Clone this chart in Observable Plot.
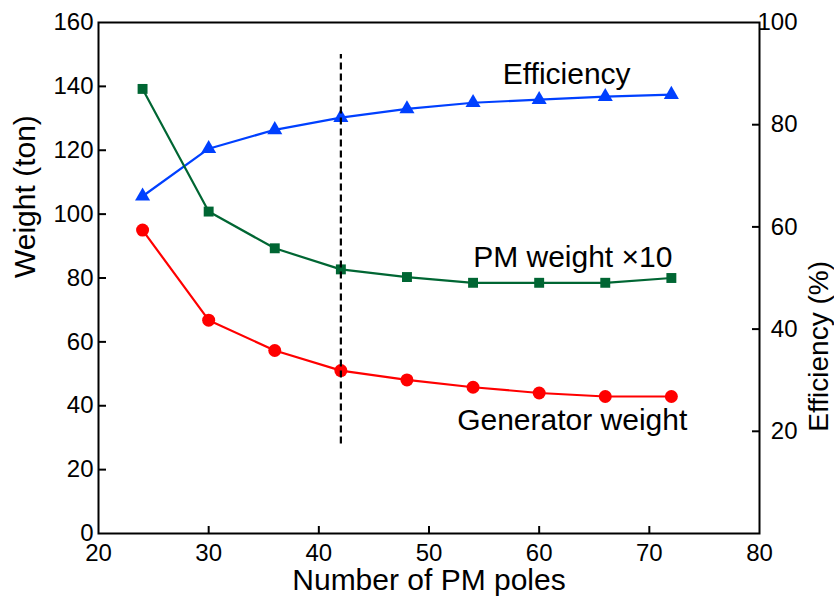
<!DOCTYPE html>
<html>
<head>
<meta charset="utf-8">
<script src="https://cdn.jsdelivr.net/npm/d3@7"></script>
<script src="https://cdn.jsdelivr.net/npm/@observablehq/plot@0.6"></script>
<style>
  html, body { margin: 0; padding: 0; background: #fff; }
  #chart svg { display: block; }
</style>
</head>
<body>
<div id="chart"></div>
<script>
// Number of permanent-magnet poles
const poles = [24, 30, 36, 42, 48, 54, 60, 66, 72];
// Generator weight (ton)
const generatorWeight = [95, 66.8, 57.3, 51, 48.1, 45.8, 44, 42.9, 42.9];
// PM weight (ton), multiplied by 10
const pmWeightX10 = [139.2, 100.8, 89.3, 82.7, 80.3, 78.5, 78.5, 78.5, 80];
// Efficiency (%)
const efficiency = [66, 75.3, 79, 81.4, 83.1, 84.3, 84.9, 85.5, 85.9];

// Selected design point
const selectedPoles = [42];

// Tick values
const xTicks = [20, 30, 40, 50, 60, 70, 80];
const weightTicks = [0, 20, 40, 60, 80, 100, 120, 140, 160];
const effTicks = [20, 40, 60, 80, 100];

// Right axis (0–100 %) shares the left axis range (0–160 ton)
const effToWeight = 160 / 100;

const rows = poles.map((p, i) => ({
  poles: p,
  gen: generatorWeight[i],
  pm: pmWeightX10[i],
  eff: efficiency[i] * effToWeight
}));

const W = 834, H = 600;
const mL = 98, mR = 75, mT = 22, mB = 67;
const innerW = W - mL - mR, innerH = H - mT - mB;

const blue = "#0040ff", green = "#006633", red = "#ff0000";

const chart = Plot.plot({
  width: W,
  height: H,
  marginLeft: mL,
  marginRight: mR,
  marginTop: mT,
  marginBottom: mB,
  style: { fontFamily: "'Liberation Sans', Arial, sans-serif", background: "#fff", color: "#000" },
  x: { domain: [20, 80] },
  y: { domain: [0, 160] },
  marks: [
    // tick labels
    Plot.axisX(xTicks, { tickSize: 0, tickPadding: 10, fontSize: 24, label: null }),
    Plot.axisY(weightTicks, { tickSize: 0, tickPadding: 5, fontSize: 24, label: null }),
    Plot.text(effTicks, {
      y: d => d * effToWeight, text: d => String(d),
      frameAnchor: "right", textAnchor: "end", dx: 38, fontSize: 24
    }),
    // inward tick marks
    Plot.tickX(xTicks.slice(1, -1), { x: d => d, insetTop: innerH - 7, stroke: "#000", strokeWidth: 2 }),
    Plot.tickY(weightTicks.slice(1, -1), { y: d => d, insetRight: innerW - 8, stroke: "#000", strokeWidth: 2 }),
    Plot.tickY(effTicks.slice(0, -1), { y: d => d * effToWeight, insetLeft: innerW - 7, stroke: "#000", strokeWidth: 2 }),
    Plot.frame({ stroke: "#000", strokeWidth: 2 }),

    // series
    Plot.line(rows, { x: "poles", y: "eff", stroke: blue, strokeWidth: 2.2 }),
    Plot.dot(rows, { x: "poles", y: "eff", symbol: "triangle", r: 5.6, fill: blue }),
    Plot.line(rows, { x: "poles", y: "pm", stroke: green, strokeWidth: 2.2 }),
    Plot.dot(rows, { x: "poles", y: "pm", symbol: "square", r: 5.6, fill: green }),
    Plot.line(rows, { x: "poles", y: "gen", stroke: red, strokeWidth: 2.2 }),
    Plot.dot(rows, { x: "poles", y: "gen", symbol: "circle", r: 6.5, fill: red }),

    // selected design
    Plot.ruleX(selectedPoles, { x: d => d, y1: 28, y2: 150, stroke: "#000", strokeWidth: 2.2, strokeDasharray: "7,4" }),

    // series labels
    Plot.text(["Efficiency"], { x: 62.5, y: 143.7, text: d => d, fontSize: 30, textAnchor: "middle" }),
    Plot.text(["PM weight \u00d710"], { x: 63.05, y: 86.5, text: d => d, fontSize: 30, textAnchor: "middle" }),
    Plot.text(["Generator weight"], { x: 63, y: 35.4, text: d => d, fontSize: 30, textAnchor: "middle" }),

    // axis titles
    Plot.text(["Number of PM poles"], { frameAnchor: "bottom", lineAnchor: "middle", dy: 47, text: d => d, fontSize: 30 }),
    Plot.text(["Weight (ton)"], { frameAnchor: "left", lineAnchor: "middle", dx: -73, rotate: -90, text: d => d, fontSize: 30 }),
    Plot.text(["Efficiency (%)"], { frameAnchor: "right", lineAnchor: "middle", dx: 60, dy: -17, rotate: -90, text: d => d, fontSize: 28 })
  ]
});

document.getElementById("chart").appendChild(chart);
</script>
</body>
</html>
